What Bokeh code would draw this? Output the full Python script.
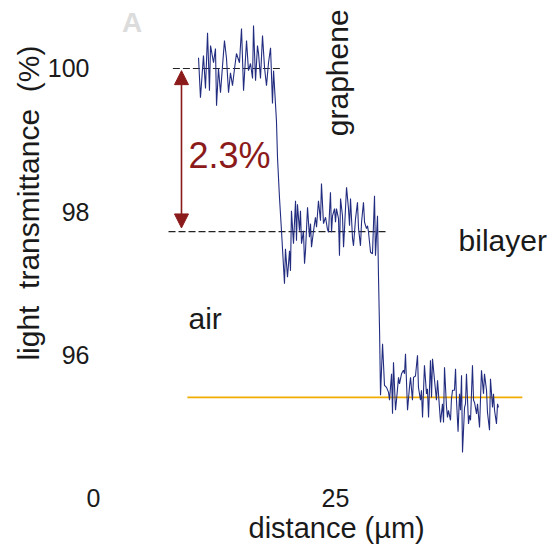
import math
from bokeh.plotting import figure
from bokeh.models import Label, Arrow, NormalHead, FixedTicker, Range1d, Title
from bokeh.embed import file_html
from bokeh.resources import INLINE

# ---- data ----
x_um = [10.85, 11.05, 11.36, 11.57, 11.78, 11.98, 12.09, 12.40, 12.60, 12.71,
        12.91, 13.12, 13.33, 13.53, 13.74, 13.95, 14.15, 14.36, 14.57, 14.77,
        15.08, 15.29, 15.39, 15.50, 15.81, 16.01, 16.22, 16.43, 16.53, 16.74,
        16.94, 17.05, 17.25, 17.46, 17.67, 17.87, 18.08, 18.29, 18.49, 18.60,
        18.90, 19.01, 19.21, 19.42,
        19.73, 19.83, 20.04, 20.25, 20.35, 20.45, 20.66, 20.87, 20.97, 21.07,
        21.28, 21.38, 21.49, 21.69, 21.80, 21.90, 22.11, 22.31, 22.42, 22.52,
        22.73, 22.93, 23.04, 23.24, 23.45, 23.55, 23.76, 23.97, 24.17, 24.28,
        24.48, 24.59, 24.69, 24.90, 25.00, 25.10, 25.31, 25.41, 25.52, 25.72,
        25.83, 25.93, 26.14, 26.34, 26.45, 26.55, 26.76, 26.86, 27.07, 27.27,
        27.38, 27.58, 27.69, 27.89, 28.00, 28.20, 28.31, 28.41, 28.62, 28.82,
        29.03, 29.13, 29.34, 29.44, 29.55, 29.65,
        29.86, 30.06, 30.27, 30.48, 30.58, 30.79, 30.89, 30.99, 31.20, 31.30,
        31.51, 31.61, 31.82, 32.02, 32.13, 32.23, 32.44, 32.64, 32.75, 32.95,
        33.06, 33.26, 33.47, 33.57, 33.78, 33.88, 33.99, 34.19, 34.40, 34.50,
        34.61, 34.81, 34.92, 35.02, 35.23, 35.43, 35.54, 35.74, 35.85, 36.05,
        36.16, 36.26, 36.47, 36.57, 36.67, 36.88, 36.98, 37.09, 37.29, 37.40,
        37.50, 37.66, 37.81, 37.91, 38.02, 38.12, 38.33, 38.43, 38.53, 38.74,
        38.84, 38.95, 39.15, 39.26, 39.36, 39.57, 39.67, 39.88, 40.08, 40.29,
        40.39, 40.60, 40.70, 40.91, 41.01, 41.22, 41.32, 41.43, 41.63, 41.74,
        41.84]

transmittance = [100.15, 99.59, 100.18, 99.72, 100.50, 99.69, 100.32, 100.08, 100.28, 99.48,
                 100.00, 99.66, 100.04, 100.39, 100.14, 99.66, 99.94, 99.76, 100.00, 100.21,
                 100.08, 100.56, 100.15, 99.69, 100.39, 99.97, 100.07, 99.86, 100.60, 99.83,
                 100.32, 100.21, 99.86, 100.46, 100.01, 99.76, 100.08, 100.29, 99.51, 99.97,
                 99.27, 98.75, 98.20, 97.73,
                 96.99, 97.48, 97.08, 97.45, 97.17, 98.01, 97.55, 98.15, 97.59, 98.10,
                 97.73, 98.01, 97.55, 97.73, 97.27, 97.45, 98.06, 97.64, 97.83, 97.50,
                 97.73, 97.92, 97.78, 98.15, 97.87, 98.39, 97.83, 97.92, 97.75, 97.71,
                 98.27, 97.71, 97.94, 98.04, 97.85, 98.04, 97.90, 97.38, 98.18, 97.94,
                 97.50, 97.76, 98.34, 98.04, 97.80, 98.18, 97.62, 97.52, 97.90, 98.13,
                 97.76, 97.52, 97.85, 98.13, 97.85, 97.76, 97.80, 97.71, 97.43, 97.41,
                 98.22, 97.38, 97.94, 97.10, 96.34, 95.43,
                 96.15, 95.57, 95.54, 95.47, 95.36, 95.73, 95.17, 95.89, 95.22, 95.36,
                 95.68, 95.59, 95.73, 95.78, 95.73, 96.01, 95.22, 95.54, 95.68, 95.36,
                 95.68, 95.70, 95.99, 95.54, 95.36, 95.50, 95.12, 95.85, 95.45, 95.52,
                 95.12, 95.92, 95.40, 95.94, 95.64, 95.36, 95.64, 95.26, 95.05, 95.31,
                 95.05, 95.82, 95.26, 95.12, 95.22, 95.08, 95.38, 95.50, 95.50, 95.80,
                 95.36, 94.92, 95.45, 95.22, 95.71, 94.63, 95.26, 95.31, 95.73, 95.03,
                 95.15, 95.08, 95.85, 95.36, 95.33, 95.17, 95.31, 94.98, 95.78, 95.45,
                 95.73, 95.50, 95.19, 94.94, 95.66, 95.26, 95.45, 95.22, 95.03, 95.31,
                 95.26]

# reference levels
graphene_level = 100.0
graphene_span = [8.2, 19.5]
bilayer_level = 97.72
bilayer_span = [7.75, 30.2]
air_level = 95.4
air_span = [9.7, 44.3]

x_ticks = [0, 25]
y_ticks = [96, 98, 100]

FONT = "Liberation Sans"
TXT = "#1a1a1a"
RED = "#8b1a1a"
NB = "\u00a0"

p = figure(width=547, height=550, output_backend="svg", toolbar_location=None,
           x_range=Range1d(0, 46.90), y_range=Range1d(94.21, 100.951),
           min_border_left=93, min_border_right=0, min_border_top=0,
           min_border_bottom=68)
p.outline_line_color = None
p.grid.visible = False
p.background_fill_color = "white"
p.border_fill_color = "white"

for ax in (p.xaxis[0], p.yaxis[0]):
    ax.axis_line_color = None
    ax.major_tick_line_color = None
    ax.minor_tick_line_color = None
    ax.major_tick_in = 0
    ax.major_tick_out = 0
    ax.major_label_text_font = FONT
    ax.major_label_text_font_size = "25px"
    ax.major_label_text_color = TXT
p.xaxis[0].ticker = FixedTicker(ticks=x_ticks)
p.yaxis[0].ticker = FixedTicker(ticks=y_ticks)
p.xaxis[0].major_label_standoff = 6
p.yaxis[0].major_label_standoff = 4

# axis titles as side titles
p.add_layout(Title(text="distance (µm)", align="left", offset=155, standoff=0,
                   vertical_align="bottom", text_font=FONT, text_font_size="29px",
                   text_font_style="normal", text_color=TXT), "below")
p.add_layout(Title(text="light" + NB * 2 + "transmittance" + NB * 2 + "(%)", align="right",
                   offset=45, standoff=0, vertical_align="bottom", text_font=FONT,
                   text_font_size="30px", text_font_style="normal", text_color=TXT), "left")

# reference lines
p.line(graphene_span, [graphene_level] * 2, line_color="#222222", line_width=1.2, line_dash="7 3")
p.line(bilayer_span, [bilayer_level] * 2, line_color="#222222", line_width=1.2, line_dash="7 3")
p.line(air_span, [air_level] * 2, line_color="#f2ac00", line_width=1.6)

# signal
p.line(x_um, transmittance, line_color="#232d80", line_width=1.1)

# arrow 2.3%
p.add_layout(Arrow(x_start=9.09, y_start=bilayer_level + 0.05, x_end=9.09, y_end=graphene_level - 0.03,
                   line_color=RED, line_width=1.6,
                   start=NormalHead(size=14, fill_color=RED, line_color=RED),
                   end=NormalHead(size=14, fill_color=RED, line_color=RED)))

def lab(x, y, text, size, color=TXT, align="left", base="middle", angle=0.0, style="normal"):
    p.add_layout(Label(x=x, y=y, text=text, text_font=FONT, text_font_size=size,
                       text_color=color, text_align=align, text_baseline=base,
                       angle=angle, text_font_style=style))

lab(9.81, 98.78, "2.3%", "36px", color=RED)
lab(25.2, 99.94, "graphene", "30px", align="center", angle=math.pi / 2)
lab(37.71, 97.59, "bilayer", "30px")
lab(9.81, 96.50, "air", "30px")
lab(3.99, 100.64, "A", "28px", color="#dcdcdc", align="center", style="bold")

open("out.html", "w").write(file_html(p, INLINE))
